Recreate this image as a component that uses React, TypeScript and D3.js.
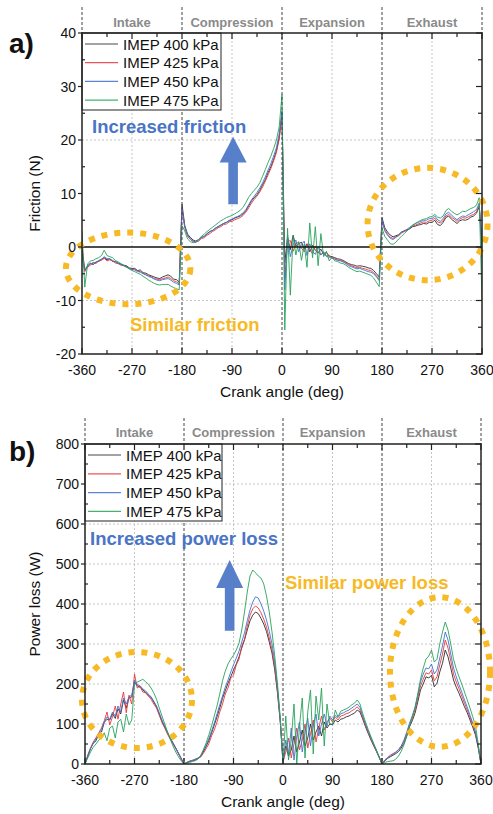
import * as d3 from 'd3';
import { useEffect, useRef } from 'react';

// crank angle grid shared by every series (deg)
const angles = d3.range(-360, 361, 5);
const angleTicks = [-360, -270, -180, -90, 0, 90, 180, 270, 360];
const phaseNames = ['Intake', 'Compression', 'Expansion', 'Exhaust'];
const seriesNames = ['IMEP 400 kPa', 'IMEP 425 kPa', 'IMEP 450 kPa', 'IMEP 475 kPa'];
const seriesColors = ['#2b2b2b', '#e8383b', '#3f72d2', '#27a35a'];

const frictionTicks = [-20, -10, 0, 10, 20, 30, 40];
const frictionGrid = [-10, 20];
const powerTicks = [0, 100, 200, 300, 400, 500, 600, 700, 800];
const powerGrid = [100, 200, 300, 400, 500, 600, 700];

// Friction (N)
const friction400 = [
  0, -4.3, -3.6, -3.0, -3.3, -2.8, -2.7, -2.3, -2.0, -2.4, -2.2, -2.7, -2.7, -3.0, -3.2, -3.4, -3.5, -3.9,
  -4.0, -4.0, -4.4, -4.3, -4.8, -4.9, -5.2, -5.4, -5.6, -5.8, -5.9, -5.6, -5.4, -5.2, -5.5, -6.0, -6.1, -6.6,
  8.0, 4.0, 2.4, 1.8, 1.3, 1.1, 1.4, 1.8, 2.0, 2.5, 2.9, 3.1, 3.5, 3.8, 4.1, 4.4, 4.6, 4.9,
  5.1, 5.4, 5.6, 5.8, 6.2, 6.8, 7.7, 8.6, 9.2, 9.8, 10.6, 11.6, 12.6, 13.9, 15.0, 16.4, 18.0, 20.5,
  25.0, -3.0, 1.8, -0.5, 2.2, 0.1, 0.6, 0.9, -0.4, 0.6, -0.9, 0.3, -0.6, -1.1, -0.4, -1.4, -1.0, -1.7,
  -1.8, -2.0, -2.2, -2.3, -2.5, -2.8, -3.1, -3.3, -3.4, -3.6, -3.5, -3.6, -3.7, -3.9, -4.0, -4.4, -5.0, -5.6,
  5.5, 3.6, 2.8, 2.2, 1.9, 2.1, 2.3, 2.8, 3.0, 3.2, 3.4, 3.8, 3.9, 4.1, 4.2, 4.4, 4.3, 4.6,
  4.6, 5.0, 4.2, 4.0, 4.6, 5.5, 5.8, 5.2, 4.8, 4.4, 4.9, 5.1, 5.0, 5.2, 5.6, 5.8, 6.3, 7.5, 1.0,
];
const friction425 = [
  -1, -4.6, -3.8, -3.4, -3.0, -3.1, -2.6, -2.5, -2.1, -2.6, -2.4, -2.6, -3.0, -3.1, -3.4, -3.5, -3.8, -4.0,
  -4.2, -4.1, -4.5, -4.6, -4.9, -5.2, -5.4, -5.6, -5.9, -6.0, -6.1, -5.9, -5.8, -5.6, -5.9, -6.3, -6.5, -6.9,
  7.2, 3.6, 2.0, 1.4, 1.0, 0.9, 1.1, 1.6, 1.7, 2.2, 2.5, 2.9, 3.2, 3.6, 3.8, 4.2, 4.3, 4.7,
  4.8, 5.1, 5.3, 5.5, 5.9, 6.5, 7.3, 8.2, 8.9, 9.5, 10.3, 11.2, 12.3, 13.5, 14.7, 16.1, 17.7, 20.2,
  24.5, -6.0, 1.0, 1.2, -0.8, 0.6, 0.9, -0.2, -0.9, 0.5, -0.4, -1.3, 0.2, -1.0, -1.4, -0.9, -1.7, -1.6,
  -2.0, -2.1, -2.4, -2.5, -2.7, -3.0, -3.3, -3.5, -3.7, -3.9, -3.8, -4.0, -4.1, -4.3, -4.4, -4.8, -5.4, -6.0,
  5.0, 3.2, 2.4, 1.8, 1.6, 1.9, 2.1, 2.6, 2.9, 3.1, 3.5, 3.9, 4.1, 4.3, 4.5, 4.7, 4.6, 4.9,
  5.0, 5.4, 4.7, 4.5, 4.9, 5.8, 6.1, 5.6, 5.2, 4.8, 5.2, 5.5, 5.4, 5.6, 5.9, 6.1, 6.6, 7.8, 0,
];
const friction450 = [
  -2, -4.2, -3.5, -3.2, -2.9, -2.9, -2.5, -2.3, -1.8, -2.2, -2.2, -2.5, -2.8, -3.0, -3.3, -3.5, -3.7, -4.0,
  -4.2, -4.3, -4.6, -4.7, -5.0, -5.2, -5.5, -5.7, -6.0, -6.2, -6.3, -6.1, -6.0, -5.9, -6.2, -6.6, -6.8, -7.1,
  7.0, 3.8, 2.2, 1.5, 1.1, 1.0, 1.3, 1.8, 2.0, 2.4, 2.8, 3.1, 3.5, 3.8, 4.1, 4.4, 4.6, 5.0,
  5.2, 5.5, 5.7, 6.0, 6.4, 7.0, 7.9, 8.8, 9.5, 10.2, 11.0, 12.0, 13.1, 14.4, 15.6, 17.0, 18.6, 21.2,
  25.5, -8.0, 2.2, -1.8, 0.4, 1.3, -0.9, 0.4, 1.1, -1.6, 0.6, -0.8, -1.4, 0.1, -1.5, -1.0, -1.8, -1.9,
  -2.1, -2.3, -2.5, -2.6, -2.8, -3.1, -3.5, -3.7, -3.9, -4.1, -4.0, -4.2, -4.4, -4.6, -4.7, -5.0, -5.6, -6.3,
  5.2, 3.0, 2.2, 1.6, 1.4, 1.8, 2.2, 2.7, 3.0, 3.3, 3.7, 4.1, 4.4, 4.6, 4.8, 5.0, 5.0, 5.3,
  5.3, 5.8, 5.1, 4.8, 5.3, 6.2, 6.5, 6.0, 5.5, 5.1, 5.5, 5.8, 5.7, 6.0, 6.3, 6.6, 7.0, 8.2, -2,
];
const friction475 = [
  3.0, -7.5, -3.2, -2.6, -2.5, -2.2, -2.0, -1.6, -0.6, -1.6, -1.8, -2.0, -2.5, -2.8, -3.1, -3.4, -3.7, -4.1,
  -4.4, -4.6, -4.9, -5.1, -5.5, -5.8, -6.2, -6.5, -6.8, -7.0, -7.1, -7.0, -7.0, -7.0, -7.3, -7.6, -7.8, -8.0,
  4.0, 3.0, 1.5, 1.0, 0.8, 0.9, 1.4, 2.0, 2.4, 2.9, 3.3, 3.7, 4.1, 4.5, 4.9, 5.2, 5.5, 5.7,
  5.9, 6.2, 6.5, 6.9, 7.4, 8.3, 9.3, 10.0, 10.6, 11.2, 12.0, 13.2, 14.5, 15.8, 17.0, 18.4, 20.0, 22.5,
  28.5, -15.5, 3.5, -9.0, 2.0, -1.5, 1.0, -2.5, 0.5, -3.8, 4.5, -2.0, 3.8, -3.5, 2.5, -1.8, -0.8, -2.6,
  -1.9, -2.6, -2.7, -3.0, -3.1, -3.4, -3.8, -4.1, -4.4, -4.6, -4.5, -4.7, -4.9, -5.1, -5.3, -5.8, -6.6, -7.4,
  3.5, 2.0, 1.3, 0.6, 0.5, 0.9, 1.5, 2.0, 2.5, 3.0, 3.5, 4.0, 4.4, 4.7, 5.0, 5.2, 5.3, 5.6,
  5.7, 6.1, 5.6, 5.4, 5.8, 6.8, 7.2, 6.7, 6.3, 6.0, 6.3, 6.7, 6.6, 6.9, 7.2, 7.4, 7.8, 9.2, -10,
];

// Power loss (W)
const power400 = [
  0, 20, 38, 52, 58, 75, 80, 104, 112, 110, 126, 114, 138, 125, 160, 140, 165, 168,
  205, 195, 192, 185, 180, 172, 167, 155, 143, 125, 106, 92, 77, 64, 52, 40, 27, 14,
  0, 3, 6, 8, 10, 13, 18, 30, 43, 58, 77, 97, 118, 140, 164, 183, 202, 218,
  235, 250, 268, 290, 310, 335, 358, 372, 380, 376, 364, 350, 331, 305, 277, 235, 177, 105,
  10, 45, 20, 35, 70, 30, 55, 85, 45, 65, 100, 60, 80, 95, 70, 105, 90, 100,
  98, 110, 105, 112, 114, 118, 120, 124, 127, 135, 130, 112, 93, 76, 60, 45, 31, 16,
  0, 8, 14, 18, 22, 26, 31, 40, 52, 70, 93, 108, 127, 155, 185, 200, 218, 215,
  222, 193, 202, 230, 252, 285, 268, 240, 210, 192, 177, 160, 143, 128, 110, 92, 72, 40, 0,
];
const power425 = [
  0, 22, 40, 55, 66, 78, 90, 108, 130, 98, 118, 145, 112, 150, 180, 128, 172, 150,
  225, 190, 195, 180, 178, 170, 162, 150, 140, 122, 104, 90, 75, 62, 50, 38, 25, 12,
  0, 4, 7, 9, 11, 14, 17, 26, 38, 50, 70, 85, 105, 130, 150, 175, 190, 215,
  222, 248, 262, 295, 312, 345, 372, 388, 395, 390, 378, 362, 342, 315, 285, 242, 182, 108,
  5, 30, 65, 15, 50, 90, 35, 60, 100, 40, 75, 110, 55, 90, 120, 85, 105, 115,
  105, 118, 110, 120, 122, 126, 128, 133, 137, 143, 135, 116, 97, 79, 62, 47, 32, 17,
  0, 10, 16, 22, 26, 30, 36, 45, 58, 76, 98, 115, 135, 165, 195, 212, 228, 225,
  235, 208, 218, 248, 275, 310, 290, 258, 225, 205, 188, 170, 152, 135, 117, 98, 77, 42, 0,
];
const power450 = [
  0, 20, 39, 52, 63, 75, 86, 105, 118, 112, 130, 120, 145, 130, 165, 150, 168, 172,
  210, 198, 196, 188, 183, 175, 168, 157, 145, 128, 110, 95, 80, 66, 53, 40, 26, 13,
  0, 4, 7, 9, 12, 15, 20, 33, 47, 63, 82, 102, 125, 148, 170, 192, 210, 230,
  248, 265, 282, 305, 328, 358, 385, 405, 418, 415, 400, 382, 360, 332, 300, 255, 190, 112,
  0, 60, 25, 90, 10, 70, 105, 30, 80, 115, 45, 95, 125, 70, 100, 125, 95, 120,
  110, 122, 116, 126, 128, 132, 135, 140, 145, 150, 142, 120, 100, 82, 65, 49, 34, 18,
  0, 9, 15, 20, 24, 29, 35, 45, 60, 80, 102, 120, 142, 172, 205, 225, 240, 238,
  250, 225, 235, 265, 295, 330, 310, 275, 240, 218, 198, 180, 160, 142, 122, 102, 80, 44, 0,
];
const power475 = [
  0, 15, 30, 42, 50, 60, 66, 78, 58, 90, 95, 65, 105, 112, 80, 125, 98, 110,
  198, 205, 208, 212, 206, 200, 190, 178, 162, 140, 120, 100, 80, 62, 45, 30, 18, 8,
  0, 2, 4, 6, 8, 12, 20, 35, 52, 72, 95, 120, 145, 175, 208, 232, 250, 262,
  272, 285, 302, 335, 380, 430, 470, 485, 478, 470, 465, 450, 420, 380, 330, 270, 200, 115,
  0, 120, 10, 60, 150, 0, 95, 165, 15, 130, 185, 25, 170, 110, 190, 45, 150, 100,
  100, 135, 118, 132, 135, 138, 142, 148, 152, 160, 150, 126, 105, 86, 68, 51, 34, 16,
  0, 4, 6, 7, 8, 12, 20, 32, 48, 70, 95, 118, 140, 175, 212, 240, 262, 270,
  285, 255, 262, 300, 330, 355, 335, 300, 262, 238, 218, 200, 180, 160, 140, 118, 95, 50, 0,
];

const frictionSeries = [friction400, friction425, friction450, friction475];
const powerSeries = [power400, power425, power450, power475];

const FONT = "'Liberation Sans', Arial, sans-serif";
const BLUE = '#4a74c6';
const ORANGE = '#f7b924';

type Panel = {
  id: string;
  box: { left: number; right: number; top: number; bottom: number };
  yDomain: [number, number];
  yTicks: number[];
  yStep: number;
  yGrid: number[];
  zeroLine: boolean;
  series: number[][];
  yTitle: string;
  letter: string;
  letterY: number;
  phaseY: number;
  legendBox: { x: number; y: number; w: number; h: number; row: number };
  ellipses: { a: number; v: number; ra: number; rv: number }[];
  blueText: { text: string; x: number; y: number };
  orangeText: { text: string; x: number; y: number };
  arrow: { a: number; tip: number; headBase: number; tail: number };
};

function drawPanel(svg: d3.Selection<SVGSVGElement, unknown, null, undefined>, p: Panel) {
  const { box } = p;
  const x = d3.scaleLinear().domain([-360, 360]).range([box.left, box.right]);
  const y = d3.scaleLinear().domain(p.yDomain).range([box.bottom, box.top]);
  const g = svg.append('g');

  g.append('defs').append('clipPath').attr('id', `clip-${p.id}`)
    .append('rect')
    .attr('x', box.left).attr('y', box.top)
    .attr('width', box.right - box.left).attr('height', box.bottom - box.top);

  // light dotted grid
  g.selectAll('.gx').data([-270, -90, 90, 270]).join('line')
    .attr('x1', d => x(d)).attr('x2', d => x(d))
    .attr('y1', box.top).attr('y2', box.bottom)
    .attr('stroke', '#b8b8b8').attr('stroke-width', 0.8).attr('stroke-dasharray', '2,2');
  g.selectAll('.gy').data(p.yGrid).join('line')
    .attr('x1', box.left).attr('x2', box.right)
    .attr('y1', d => y(d)).attr('y2', d => y(d))
    .attr('stroke', '#b8b8b8').attr('stroke-width', 0.8).attr('stroke-dasharray', '2,2');

  // data
  const plot = g.append('g').attr('clip-path', `url(#clip-${p.id})`);
  const line = d3.line<number>().x((_, i) => x(angles[i])).y(d => y(d));
  p.series.forEach((s, i) => {
    plot.append('path').datum(s)
      .attr('fill', 'none').attr('stroke', seriesColors[i])
      .attr('stroke-width', 0.9).attr('stroke-linejoin', 'round')
      .attr('d', line);
  });

  if (p.zeroLine) {
    g.append('line').attr('x1', box.left).attr('x2', box.right)
      .attr('y1', y(0)).attr('y2', y(0)).attr('stroke', '#111').attr('stroke-width', 1.5);
  }

  // stroke phase boundaries
  g.selectAll('.ph').data([-360, -180, 0, 180, 360]).join('line')
    .attr('x1', d => x(d)).attr('x2', d => x(d))
    .attr('y1', box.top - 26)
    .attr('y2', d => (Math.abs(d) === 360 ? box.top : box.bottom))
    .attr('stroke', '#444').attr('stroke-width', 1).attr('stroke-dasharray', '3,2');

  g.selectAll('.phl').data(phaseNames).join('text')
    .attr('x', (_, i) => x(-270 + i * 180)).attr('y', p.phaseY)
    .attr('text-anchor', 'middle').attr('font-family', FONT).attr('font-weight', 'bold')
    .attr('font-size', 13).attr('fill', '#8a8a8a')
    .text(d => d);

  // orange dotted ellipses
  g.selectAll('.el').data(p.ellipses).join('ellipse')
    .attr('cx', d => x(d.a)).attr('cy', d => y(d.v))
    .attr('rx', d => x(d.ra) - x(0)).attr('ry', d => y(0) - y(d.rv))
    .attr('fill', 'none').attr('stroke', ORANGE).attr('stroke-width', 6)
    .attr('stroke-dasharray', '6,7');

  // annotations
  g.append('text').attr('x', p.blueText.x).attr('y', p.blueText.y)
    .attr('font-family', FONT).attr('font-weight', 'bold').attr('font-size', 18.5)
    .attr('fill', BLUE).text(p.blueText.text);
  g.append('text').attr('x', p.orangeText.x).attr('y', p.orangeText.y)
    .attr('font-family', FONT).attr('font-weight', 'bold').attr('font-size', 18.5)
    .attr('fill', ORANGE).text(p.orangeText.text);

  const ax = x(p.arrow.a);
  const yt = y(p.arrow.tip);
  const yh = y(p.arrow.headBase);
  const yb = y(p.arrow.tail);
  g.append('path')
    .attr('d', `M${ax},${yt} L${ax + 13.5},${yh} L${ax + 4.8},${yh} L${ax + 4.8},${yb} L${ax - 4.8},${yb} L${ax - 4.8},${yh} L${ax - 13.5},${yh} Z`)
    .attr('fill', BLUE).attr('opacity', 0.92);

  // legend
  const lb = p.legendBox;
  g.append('rect').attr('x', lb.x).attr('y', lb.y).attr('width', lb.w).attr('height', lb.h)
    .attr('fill', '#fff').attr('stroke', '#222').attr('stroke-width', 1);
  const leg = g.selectAll('.lg').data(seriesNames).join('g')
    .attr('transform', (_, i) => `translate(${lb.x}, ${lb.y + 11 + i * lb.row})`);
  leg.append('line').attr('x1', 3).attr('x2', 36).attr('y1', 0).attr('y2', 0)
    .attr('stroke', (_, i) => seriesColors[i]).attr('stroke-width', 1.2).attr('opacity', 0.85);
  leg.append('text').attr('x', 41).attr('y', 5.5)
    .attr('font-family', FONT).attr('font-size', 15).attr('fill', '#111')
    .text(d => d);

  // frame
  g.append('rect').attr('x', box.left).attr('y', box.top)
    .attr('width', box.right - box.left).attr('height', box.bottom - box.top)
    .attr('fill', 'none').attr('stroke', '#222').attr('stroke-width', 1.5);

  // x ticks (inward, top and bottom)
  const xMinor = d3.range(-360, 361, 45);
  g.selectAll('.xt').data(xMinor).join('line')
    .attr('x1', d => x(d)).attr('x2', d => x(d))
    .attr('y1', box.bottom).attr('y2', d => box.bottom - (d % 90 === 0 ? 6 : 4))
    .attr('stroke', '#222').attr('stroke-width', 1.2);
  g.selectAll('.xt2').data(xMinor).join('line')
    .attr('x1', d => x(d)).attr('x2', d => x(d))
    .attr('y1', box.top).attr('y2', d => box.top + (d % 90 === 0 ? 6 : 4))
    .attr('stroke', '#222').attr('stroke-width', 1.2);
  g.selectAll('.xl').data(angleTicks).join('text')
    .attr('x', d => x(d)).attr('y', box.bottom + 21)
    .attr('text-anchor', 'middle').attr('font-family', FONT).attr('font-size', 14).attr('fill', '#111')
    .text(d => d);

  // y ticks
  const yMinor = d3.range(p.yDomain[0], p.yDomain[1] + 0.001, p.yStep / 2);
  g.selectAll('.yt').data(yMinor).join('line')
    .attr('x1', d => (p.yTicks.includes(d) ? box.left - 4 : box.left))
    .attr('x2', d => (p.yTicks.includes(d) ? box.left : box.left + 3))
    .attr('y1', d => y(d)).attr('y2', d => y(d))
    .attr('stroke', '#222').attr('stroke-width', 1.2);
  g.selectAll('.yt2').data(yMinor).join('line')
    .attr('x1', box.right).attr('x2', d => box.right - (p.yTicks.includes(d) ? 6 : 4))
    .attr('y1', d => y(d)).attr('y2', d => y(d))
    .attr('stroke', '#222').attr('stroke-width', 1.2);
  g.selectAll('.yl').data(p.yTicks).join('text')
    .attr('x', box.left - 6).attr('y', d => y(d) + 5)
    .attr('text-anchor', 'end').attr('font-family', FONT).attr('font-size', 14).attr('fill', '#111')
    .text(d => d);

  // titles
  g.append('text').attr('x', (box.left + box.right) / 2).attr('y', box.bottom + 43)
    .attr('text-anchor', 'middle').attr('font-family', FONT).attr('font-size', 15.5).attr('fill', '#111')
    .text('Crank angle (deg)');
  g.append('text')
    .attr('transform', `translate(40, ${(box.top + box.bottom) / 2}) rotate(-90)`)
    .attr('text-anchor', 'middle').attr('font-family', FONT).attr('font-size', 15.5).attr('fill', '#111')
    .text(p.yTitle);
  g.append('text').attr('x', 9).attr('y', p.letterY)
    .attr('font-family', FONT).attr('font-weight', 'bold').attr('font-size', 28).attr('fill', '#111')
    .text(p.letter);
}

const panels: Panel[] = [
  {
    id: 'a',
    box: { left: 82, right: 482, top: 33, bottom: 354 },
    yDomain: [-20, 40],
    yTicks: frictionTicks,
    yStep: 10,
    yGrid: frictionGrid,
    zeroLine: true,
    series: frictionSeries,
    yTitle: 'Friction (N)',
    letter: 'a)',
    letterY: 53,
    phaseY: 27,
    legendBox: { x: 82, y: 33, w: 139, h: 77, row: 18.7 },
    ellipses: [
      { a: -277, v: -4, ra: 112, rv: 6.7 },
      { a: 262, v: 4.3, ra: 108, rv: 10.5 },
    ],
    blueText: { text: 'Increased friction', x: 92, y: 133 },
    orangeText: { text: 'Similar friction', x: 130, y: 331 },
    arrow: { a: -88, tip: 20.6, headBase: 15.8, tail: 8 },
  },
  {
    id: 'b',
    box: { left: 85, right: 481, top: 444, bottom: 764 },
    yDomain: [0, 800],
    yTicks: powerTicks,
    yStep: 100,
    yGrid: powerGrid,
    zeroLine: false,
    series: powerSeries,
    yTitle: 'Power loss (W)',
    letter: 'b)',
    letterY: 461,
    phaseY: 437,
    legendBox: { x: 85, y: 444, w: 137, h: 77, row: 18.8 },
    ellipses: [
      { a: -265.5, v: 160, ra: 100, rv: 120 },
      { a: 285.5, v: 230, ra: 91, rv: 187 },
    ],
    blueText: { text: 'Increased power loss', x: 90, y: 545 },
    orangeText: { text: 'Similar power loss', x: 285, y: 589 },
    arrow: { a: -97, tip: 510, headBase: 440, tail: 333 },
  },
];

export default function App() {
  const svgRef = useRef<SVGSVGElement | null>(null);

  useEffect(() => {
    const svg = d3.select(svgRef.current as SVGSVGElement);
    svg.selectAll('*').remove();
    svg.append('rect').attr('width', 493).attr('height', 814).attr('fill', '#fff');
    panels.forEach(p => drawPanel(svg, p));
  }, []);

  return (
    <svg
      ref={svgRef}
      width={493}
      height={814}
      style={{ position: 'absolute', left: 0, top: 0, background: '#fff' }}
    />
  );
}
